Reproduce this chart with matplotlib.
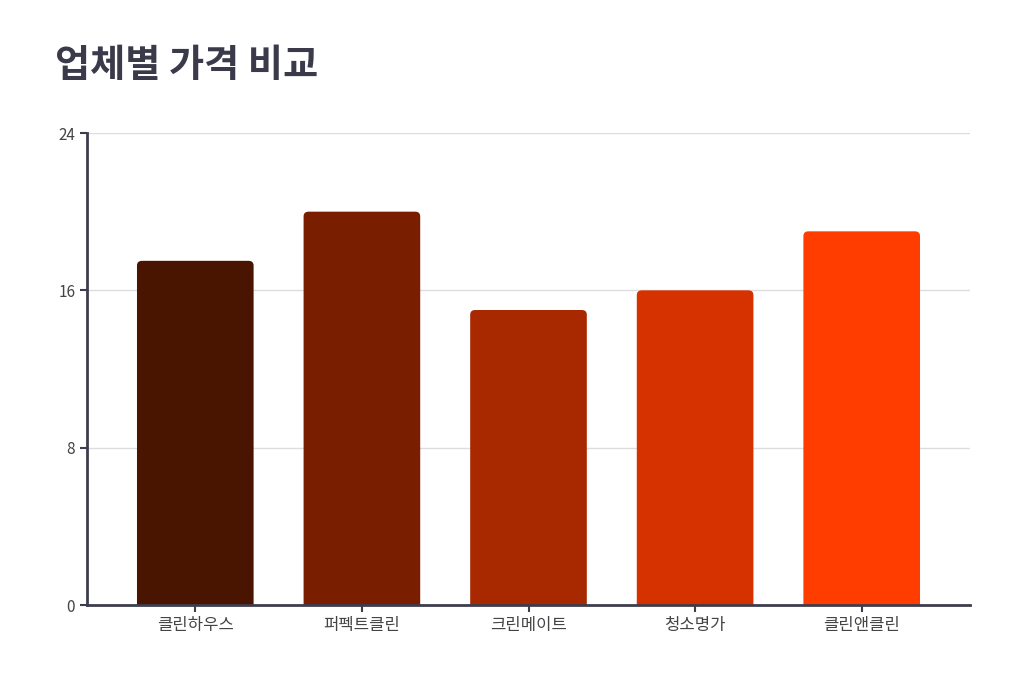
import matplotlib
matplotlib.use('Agg')
import matplotlib.pyplot as plt
from matplotlib.patches import FancyBboxPatch

plt.rcParams['font.family'] = ['Noto Sans CJK KR', 'DejaVu Sans']

# data
companies = ['클린하우스', '퍼펙트클린', '크린메이트', '청소명가', '클린앤클린']
prices = [17.5, 20, 15, 16, 19]
colors = ['#4A1500', '#7A1E00', '#A82800', '#D63200', '#FF3D00']
yticks = [0, 8, 16, 24]

fig = plt.figure(figsize=(10.24, 6.77), dpi=100)
ax = fig.add_axes([87/1024, 1 - 605/677, (970-87)/1024, (605-133)/677])

w = 0.7
for i, (p, c) in enumerate(zip(prices, colors)):
    # rounded top corners; bottom goes below 0 and is clipped
    box = FancyBboxPatch((i - w/2, -1), w, p + 1,
                         boxstyle='round,pad=0,rounding_size=0.03',
                         mutation_aspect=8.0, facecolor=c, edgecolor='none',
                         zorder=2)
    box.set_clip_on(True)
    ax.add_patch(box)

ax.set_xlim(-0.65, 4.65)
ax.set_ylim(0, 24)
ax.set_yticks(yticks)
ax.set_xticks(range(len(companies)))
ax.set_xticklabels(companies, fontsize=12)

ax.grid(axis='y', color='#dddddd', linewidth=1, zorder=0)
ax.set_axisbelow(True)
for s in ['top', 'right']:
    ax.spines[s].set_visible(False)
for s in ['left', 'bottom']:
    ax.spines[s].set_color('#3d3d4d')
    ax.spines[s].set_linewidth(2)
ax.tick_params(axis='both', colors='#3d3d4d', labelcolor='#444444',
               width=1.5, length=5)
ax.tick_params(axis='y', labelsize=11)

fig.text(55/1024, 1 - 65/677, '업체별 가격 비교', fontsize=27.5, fontweight='bold',
         color='#3a3a4a', va='center', ha='left')

fig.savefig('out.png', dpi=100, facecolor='white')
